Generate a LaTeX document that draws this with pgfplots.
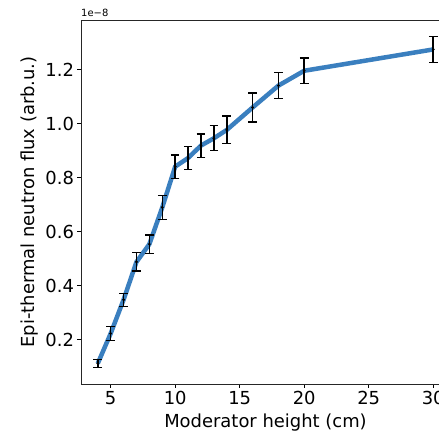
\documentclass[border=0pt]{standalone}
\usepackage{pgfplots}
\pgfplotsset{compat=1.18}
\usepackage{fontspec}
\setmainfont{DejaVu Sans}
\definecolor{mplblue}{HTML}{3A7FBF}
\begin{document}
\begin{tikzpicture}
\pgfplotstableread{
x y e
4 0.112 0.015
5 0.223 0.027
6 0.348 0.024
7 0.488 0.034
8 0.554 0.034
9 0.690 0.044
10 0.841 0.043
11 0.873 0.042
12 0.919 0.043
13 0.946 0.046
14 0.977 0.051
16 1.060 0.054
18 1.141 0.049
20 1.196 0.047
30 1.275 0.048
}\data
\begin{axis}[
  scale only axis,
  width=369bp, height=364bp,
  at={(0,0)}, anchor=south west,
  xmin=2.7, xmax=31.3, ymin=0.036, ymax=1.384,
  xtick={5,10,15,20,25,30},
  ytick={0.2,0.4,0.6,0.8,1.0,1.2},
  scaled y ticks=false,
  yticklabel style={/pgf/number format/.cd,fixed,fixed zerofill,precision=1},
  /pgf/number format/assume math mode=true,
  tick pos=left, tick align=outside,
  major tick length=3.5bp,
  every tick/.style={black, line width=0.6bp},
  axis line style={line width=0.6bp, black!85},
  ticklabel style={font=\fontsize{18}{21}\selectfont},
  label style={font=\fontsize{18}{21}\selectfont},
  xlabel={Moderator height (cm)},
  xlabel style={yshift=-2bp},
  ylabel={Epi-thermal neutron flux (arb.u.)},
  clip=false,
]
\addplot[mplblue, line width=4.5bp, no marks] table[x=x,y=y] {\data};
\addplot[black, only marks, mark=*, mark size=1.2bp,
  error bars/.cd, y dir=both, y explicit,
  error bar style={line width=1.5bp, black},
  error mark options={rotate=90, mark size=4.3bp, line width=1.3bp, black}]
  table[x=x,y=y,y error=e] {\data};
\node[anchor=south west, font=\fontsize{10}{12}\selectfont, inner sep=0pt] at (rel axis cs:0,1) [yshift=3bp] {1e−8};
\end{axis}
\pgfresetboundingbox
\useasboundingbox (-81bp,-51bp) rectangle (358bp,384bp);
\end{tikzpicture}
\end{document}
